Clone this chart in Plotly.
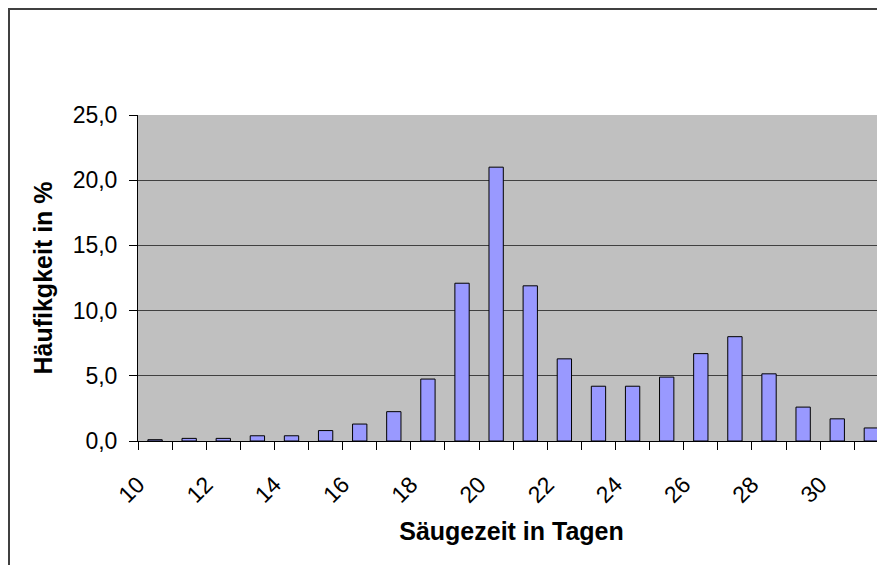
import plotly.graph_objects as go

tage = list(range(10, 32))
haeufigkeit = [0.1, 0.2, 0.2, 0.4, 0.4, 0.8, 1.3, 2.25, 4.75, 12.1, 21.0,
               11.9, 6.3, 4.2, 4.2, 4.9, 6.7, 8.0, 5.15, 2.6, 1.7, 1.0]
x_labels = [str(t) for t in range(10, 31, 2)]

fig = go.Figure()
fig.add_trace(go.Bar(
    x=tage, y=haeufigkeit, width=0.42,
    marker=dict(color="#9999FF", line=dict(color="black", width=1)),
))

# outer chart frame (Excel-style border)
fig.add_shape(type="rect", xref="paper", yref="paper",
              xsizemode="pixel", ysizemode="pixel", xanchor=0, yanchor=1,
              x0=-129, x1=900, y0=106, y1=-600,
              line=dict(color="#404040", width=2), layer="below")

# page body adds an 8px offset, so the figure is 8px smaller
fig.update_layout(
    width=877, height=557,
    margin=dict(l=130, r=0, t=107, b=124),
    paper_bgcolor="white", plot_bgcolor="#C0C0C0",
    separators=",.",
    showlegend=False,
    font=dict(family="Liberation Sans, Arial, sans-serif", color="black", size=23),
)
fig.update_xaxes(
    range=[9.5, 31.4],
    tickvals=list(range(10, 31, 2)), ticktext=x_labels,
    tickangle=-45, ticks="", showgrid=False,
    ticklabelstandoff=20, ticklabelshift=-17,
    showline=True, linecolor="black", linewidth=1,
    minor=dict(tick0=9.5, dtick=1, ticks="outside", ticklen=8,
               tickcolor="black", showgrid=False),
    title=dict(text="<b>Säugezeit in Tagen</b>", font=dict(size=25), standoff=15),
)
fig.update_yaxes(
    range=[0, 25], dtick=5, tickformat=".1f",
    ticks="outside", ticklen=8, tickcolor="black",
    ticklabelstandoff=7,
    showgrid=True, gridcolor="#404040", gridwidth=1,
    showline=True, linecolor="black", linewidth=1,
    zeroline=False,
    title=dict(text="<b>Häufikgkeit in %</b>", font=dict(size=25), standoff=12),
)

fig.write_html("out.html")
